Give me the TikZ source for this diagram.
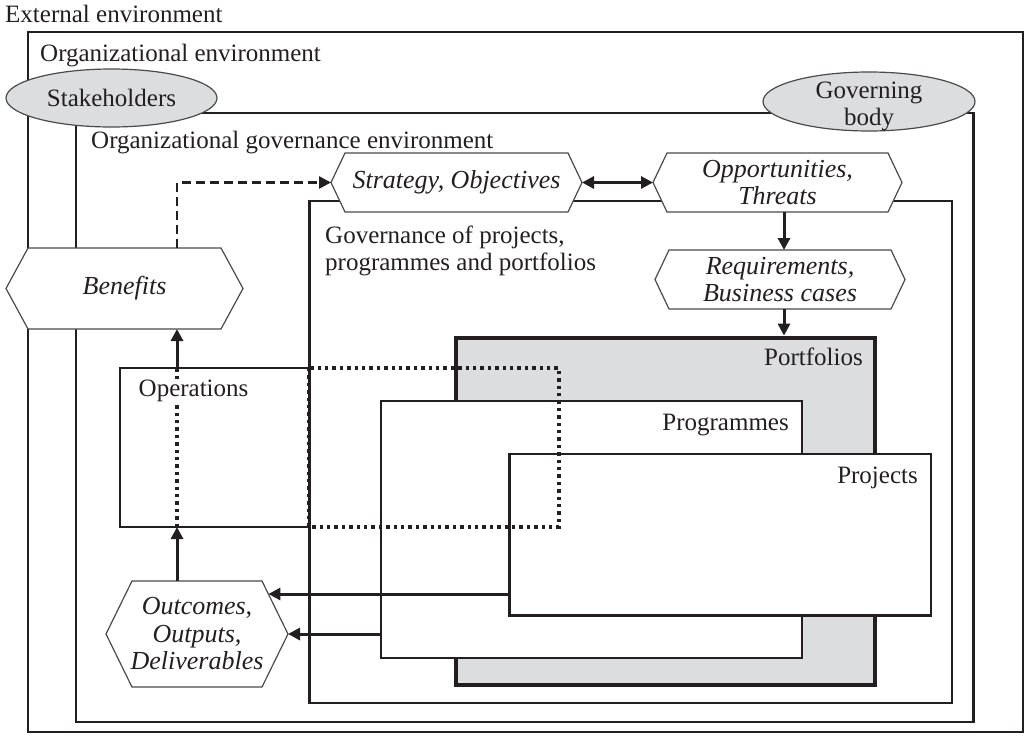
\documentclass[tikz,border=0pt]{standalone}
\usepackage{fontspec}
\setmainfont{Liberation Serif}
\usetikzlibrary{arrows.meta,calc,shapes.geometric}
\definecolor{ln}{HTML}{231F20}
\definecolor{hexln}{HTML}{4A4A4A}
\definecolor{pf}{HTML}{DCDDDF}
\newcommand{\hexshape}[6]{%
  \node[hexn, minimum width=#3, minimum height=#4] (#1) at (#2) {};
  \draw[hexline] (#1.west) -- ([xshift=#5]#1.north west) -- ([xshift=-#5]#1.north east)
     -- (#1.east) -- ([xshift=-#5]#1.south east) -- ([xshift=#5]#1.south west) -- cycle;
  \node[hextext] (#1-t) at (#1) {#6};
}
\begin{document}
\begin{tikzpicture}[x=1pt,y=-1pt,
  every node/.style={font=\fontsize{25}{27.5}\selectfont, text=ln},
  box/.style={draw=ln, line width=2.2pt, inner sep=0pt},
  portbox/.style={draw=ln, line width=4.8pt, fill=pf, inner sep=0pt},
  hexn/.style={draw=none, inner sep=0pt, outer sep=0pt, rectangle},
  hexline/.style={draw=hexln, line width=1.2pt, fill=white, line join=miter},
  hextext/.style={font=\fontsize{26}{27.5}\selectfont\itshape, align=center, inner sep=0pt},
  ell/.style={ellipse, draw=hexln, line width=1.2pt, fill=pf, inner sep=0pt},
  elltext/.style={align=center, inner sep=0pt},
  lbl/.style={anchor=base west, inner sep=0pt},
  rlbl/.style={anchor=base east, inner sep=0pt},
  arr/.style={draw=ln, line width=3pt, -{Triangle[length=12pt,width=12pt]}},
  darr/.style={draw=ln, line width=3pt, {Triangle[length=12pt,width=12pt]}-{Triangle[length=12pt,width=12pt]}},
  dasharr/.style={draw=ln, line width=2.6pt, dash pattern=on 9pt off 5pt, -{Triangle[length=12pt,width=12pt]}},
  dotline/.style={draw=ln, line width=3.4pt, dash pattern=on 3.4pt off 4pt}
]
\useasboundingbox (0,0) rectangle (1030,739);

% environment boxes
\node[box, minimum width=995pt, minimum height=700pt] (orgenv) at (525.5,382) {};
\node[box, minimum width=897.5pt, minimum height=609pt] (orggov) at (524.75,417.5) {};
\node[box, minimum width=642.5pt, minimum height=502pt] (ppp) at (630.75,452) {};
\node[portbox, minimum width=419pt, minimum height=347pt] (port) at (665.5,511.5) {};
\node[box, fill=white, minimum width=421pt, minimum height=257pt] (prog) at (591.5,529.5) {};
\node[box, fill=white, minimum width=421.5pt, minimum height=161.5pt] (proj) at (720.25,534.75) {};

% operations
\node[hexn, minimum width=439pt, minimum height=159pt] (ops) at (339.5,447.5) {};
\draw[box, line join=miter] (ppp.west |- ops.north) -- (ops.north west) -- (ops.south west) -- (ppp.west |- ops.south);
\draw[dotline] (ppp.west |- ops.north) rectangle (ops.south east);

% labels
\node[lbl] (ext-t) at (5,22) {External environment};
\node[lbl] (orgenv-t) at (40,61) {Organizational environment};
\node[lbl] (orggov-t) at (91,148) {Organizational governance environment};
\node[lbl] (ppp-t1) at (325,243) {Governance of projects,};
\node[lbl] (ppp-t2) at (325,270) {programmes and portfolios};
\node[rlbl] (port-t) at (863,365) {Portfolios};
\node[rlbl] (prog-t) at (789,430) {Programmes};
\node[rlbl] (proj-t) at (918,483) {Projects};

% hexagons
\hexshape{ben}{124.5,288.5}{237pt}{81pt}{22pt}{Benefits}
\hexshape{strat}{456.5,182.5}{251pt}{59pt}{14pt}{Strategy, Objectives}
\hexshape{opp}{777.5,182.5}{249pt}{59pt}{14pt}{Opportunities,\\Threats}
\hexshape{req}{780,279.5}{250pt}{59pt}{14pt}{Requirements,\\Business cases}
\hexshape{out}{197,634}{182pt}{106pt}{26pt}{Outcomes,\\Outputs,\\Deliverables}

% ellipses
\node[ell, minimum width=211pt, minimum height=58pt] (stake) at (111.5,98) {};
\node[elltext] (stake-t) at (stake) {Stakeholders};
\node[ell, minimum width=212pt, minimum height=59pt] (gov) at (869,101.5) {};
\node[elltext] (gov-t) at ([yshift=-5pt]gov.center) {Governing\\body};

% connectors
\coordinate (col) at (177,0);
\coordinate (ohit) at (268.4,594);
\draw[dotline] (col |- ops.south) -- (col |- ops.north);
\node[lbl, fill=white, inner sep=0.5pt] (ops-t) at (138,396) {Operations};
\draw[arr] (col |- out.north) -- (col |- ops.south);
\draw[arr] (col |- ops.north) -- (col |- ben.south);
\draw[dasharr] (col |- ben.north) |- (strat.west);
\draw[darr] (strat.east) -- (opp.west);
\draw[arr] ([xshift=6.5pt]opp.south) -- ([xshift=6.5pt]opp.south |- req.north);
\draw[arr] ([xshift=4pt]req.south) -- ([xshift=4pt]req.south |- port.north);
\draw[arr] (proj.west |- ohit) -- (ohit);
\draw[arr] (prog.west |- out.east) -- (out.east);
\end{tikzpicture}
\end{document}
